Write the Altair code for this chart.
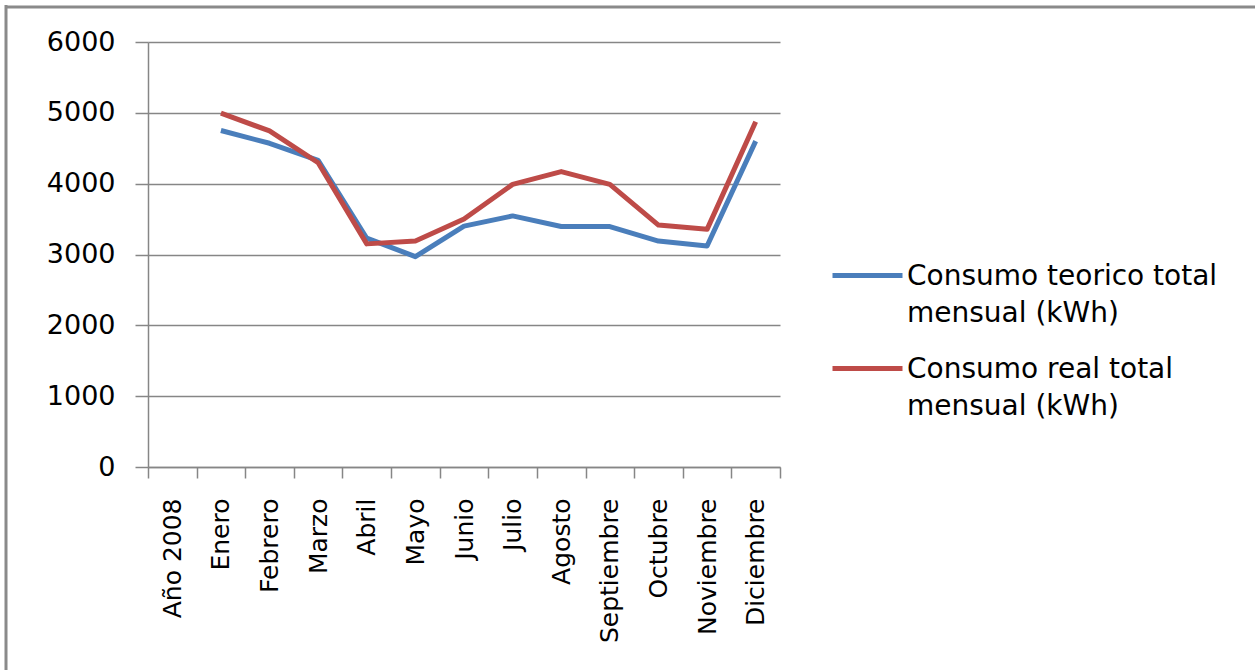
import altair as alt
import pandas as pd

# Categories along the x axis (the first one carries no values)
categories = ["Año 2008", "Enero", "Febrero", "Marzo", "Abril", "Mayo", "Junio",
              "Julio", "Agosto", "Septiembre", "Octubre", "Noviembre", "Diciembre"]
months = categories[1:]

series_names = ["Consumo teorico total mensual (kWh)",
                "Consumo real total mensual (kWh)"]
series_colors = ["#4A7EBB", "#BE4B48"]

# Monthly totals (kWh)
teorico = [4750, 4570, 4330, 3230, 2970, 3400, 3545, 3395, 3395, 3190, 3120, 4600]
real = [4995, 4745, 4295, 3150, 3190, 3500, 3990, 4170, 3990, 3415, 3355, 4875]

y_ticks = [0, 1000, 2000, 3000, 4000, 5000, 6000]

rows = []
for name, vals in zip(series_names, [teorico, real]):
    for m, v in zip(months, vals):
        rows.append({"serie": name, "mes": m, "valor": v})
df = pd.DataFrame(rows)

FONT = "DejaVu Sans"
GRAY = "#868686"

lines = alt.Chart(df).mark_line(strokeWidth=5, strokeJoin="round").encode(
    x=alt.X("mes:N", sort=categories,
            scale=alt.Scale(type="band", domain=categories, paddingInner=0, paddingOuter=0),
            axis=alt.Axis(title=None, labelAngle=270, tickBand="extent", tickSize=11,
                          labelPadding=20, labelFontSize=25, grid=False)),
    y=alt.Y("valor:Q", scale=alt.Scale(domain=[0, 6000], nice=False),
            axis=alt.Axis(title=None, values=y_ticks, format="d", tickSize=13,
                          labelPadding=20, labelFontSize=27, grid=True)),
    color=alt.Color("serie:N",
                    scale=alt.Scale(domain=series_names, range=series_colors),
                    legend=alt.Legend(title=None, orient="none", legendX=682, legendY=205,
                                      # short horizontal stroke, raised to sit on the first text line
                                      symbolType="M-1,-0.26L1,-0.26",
                                      symbolSize=4900, symbolStrokeWidth=5,
                                      symbolFillColor="transparent",
                                      labelFontSize=28, labelLimit=600,
                                      labelBaseline="alphabetic",
                                      labelExpr="split(replace(datum.label, ' mensual', '|mensual'), '|')",
                                      labelOffset=2, rowPadding=12, padding=0)),
    order=alt.Order("mes_idx:Q"),
).transform_calculate(
    mes_idx="indexof(" + str(categories).replace("'", '"') + ", datum.mes)"
)

# Outer frame of the chart area (left and top edges)
frame_src = alt.Chart(pd.DataFrame({"k": [0]}))
frame_left = frame_src.mark_rule(color="#8A8A8A", strokeWidth=3).encode(
    x=alt.value(-142), y=alt.value(-37), y2=alt.value(640))
frame_top = frame_src.mark_rule(color="#8A8A8A", strokeWidth=3).encode(
    x=alt.value(-143), x2=alt.value(1120), y=alt.value(-35))

chart = alt.layer(lines, frame_left, frame_top).properties(
    width=632, height=425,
    autosize=alt.AutoSizeParams(type="none"),
    padding={"left": 148, "top": 42, "right": 475, "bottom": 203},
    background="white",
).configure(
    style={"guide-label": {"lineHeight": 37}}
).configure_view(stroke=None).configure_axis(
    labelFont=FONT, labelColor="#000000", domainColor=GRAY, tickColor=GRAY,
    gridColor=GRAY, gridWidth=1.5, domainWidth=1.5, tickWidth=1.5,
).configure_legend(
    labelFont=FONT, labelColor="#000000"
)

chart.save("out.html", embed_options={"renderer": "svg", "actions": False})
